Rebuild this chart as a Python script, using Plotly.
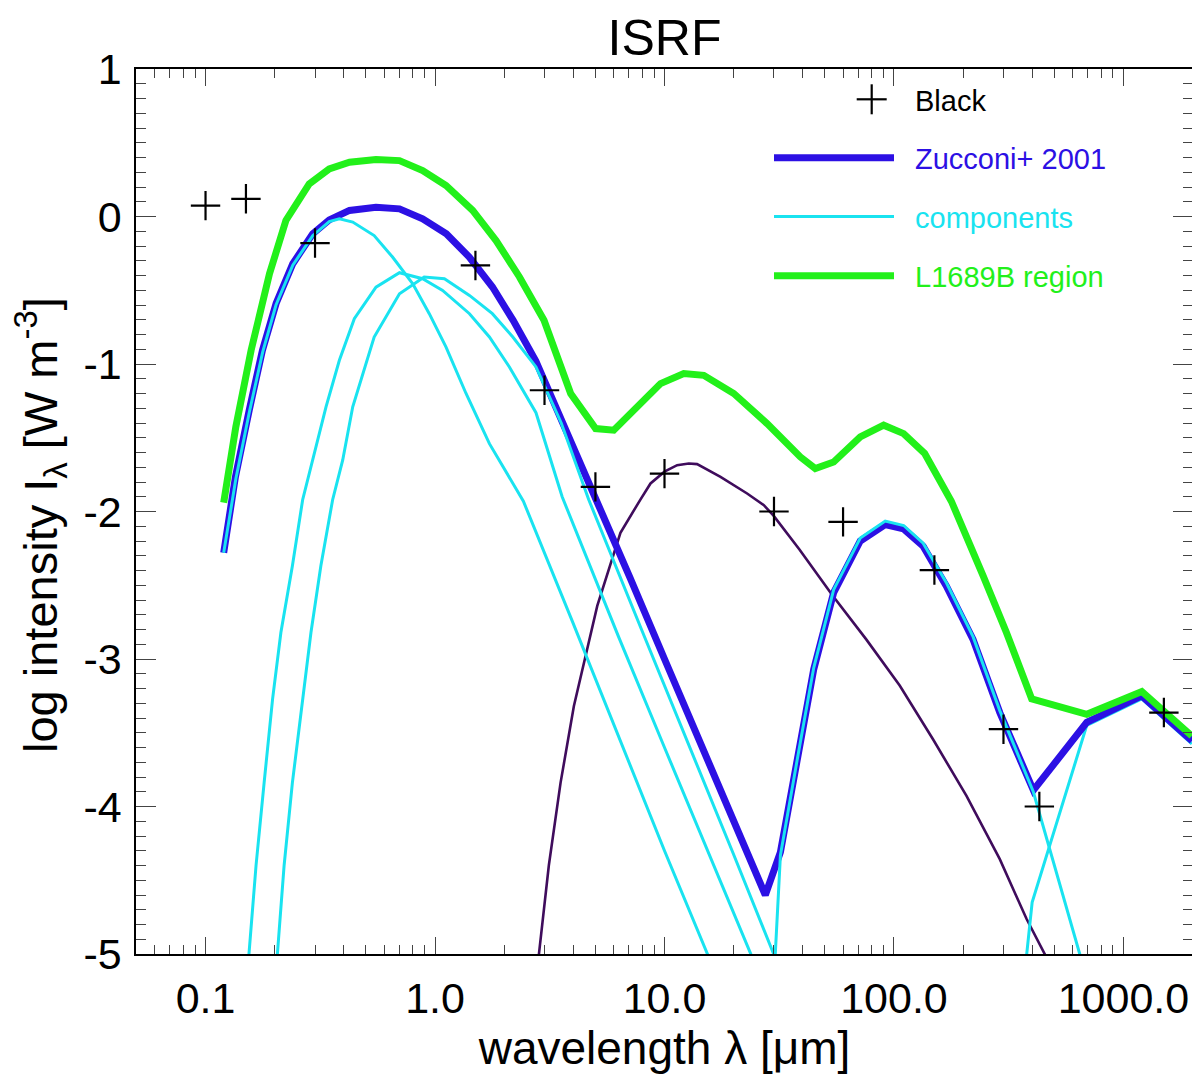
import plotly.graph_objects as go

# --- data (wavelength in micron, log intensity) ---
black_wl = [0.1, 0.15, 0.3, 1.5, 3.0, 5.0, 10.0, 30.0, 60.0, 150.0, 300.0, 430.0, 1500.0]
black_y = [0.074, 0.12, -0.18, -0.332, -1.178, -1.833, -1.743, -2.0, -2.07, -2.397, -3.476, -4.0, -3.363]

zucconi_wl = [0.12, 0.135, 0.155, 0.177, 0.203, 0.24, 0.293, 0.346, 0.424, 0.553, 0.70, 0.883,
              1.12, 1.41, 1.78, 2.19, 2.75, 3.55, 5.09, 7.08, 10.0, 14.1, 20.0, 27.5, 32.0,
              37.8, 44.7, 54.6, 71.3, 91.6, 110.0, 134.0, 169.0, 221.0, 289.0, 405.0, 692.0,
              1200.0, 1990.0]
zucconi_y = [-2.28, -1.765, -1.314, -0.907, -0.59, -0.32, -0.117, -0.023, 0.041, 0.063, 0.052,
             -0.016, -0.117, -0.275, -0.478, -0.704, -0.98, -1.37, -1.92, -2.45, -3.0, -3.55,
             -4.08, -4.6, -4.31, -3.68, -3.07, -2.55, -2.2, -2.088, -2.117, -2.235, -2.505,
             -2.867, -3.363, -3.89, -3.43, -3.25, -3.555]

l1689b_wl = [0.12, 0.1355, 0.158, 0.19, 0.224, 0.283, 0.346, 0.424, 0.553, 0.70, 0.883, 1.117,
             1.459, 1.845, 2.333, 2.985, 3.90, 5.01, 6.01, 7.60, 9.61, 12.13, 14.83, 20.04,
             27.99, 39.08, 45.39, 54.58, 71.29, 90.16, 110.2, 136.1, 177.8, 244.9, 309.0,
             398.0, 692.0, 1202.0, 1986.0]
l1689b_y = [-1.94, -1.427, -0.907, -0.388, -0.027, 0.221, 0.323, 0.368, 0.386, 0.379, 0.312,
            0.21, 0.041, -0.163, -0.41, -0.704, -1.2, -1.438, -1.449, -1.291, -1.133, -1.065,
            -1.077, -1.2, -1.404, -1.63, -1.709, -1.664, -1.494, -1.415, -1.472, -1.607, -1.93,
            -2.438, -2.82, -3.27, -3.375, -3.22, -3.522]

# Zucconi components
comp_uv_wl = [0.12, 0.1355, 0.155, 0.1774, 0.2028, 0.24, 0.293, 0.346, 0.383, 0.438, 0.543,
              0.653, 0.80, 0.944, 1.117, 1.365, 1.726, 2.427, 3.98, 6.31, 10.0, 17.4]
comp_uv_y = [-2.28, -1.78, -1.33, -0.92, -0.6, -0.33, -0.13, -0.035, -0.016, -0.038, -0.129,
             -0.275, -0.456, -0.659, -0.885, -1.2, -1.54, -1.93, -2.75, -3.53, -4.3, -5.2]

comp_a_wl = [0.151, 0.166, 0.180, 0.196, 0.213, 0.239, 0.265, 0.293, 0.335, 0.383, 0.445,
             0.553, 0.70, 0.883, 1.079, 1.413, 1.726, 2.109, 2.754, 3.581, 6.31, 10.0, 15.85,
             26.9]
comp_a_y = [-5.2, -4.40, -3.84, -3.27, -2.82, -2.37, -1.92, -1.652, -1.29, -0.975, -0.693,
            -0.479, -0.381, -0.422, -0.501, -0.659, -0.817, -1.02, -1.33, -1.9, -2.85, -3.6,
            -4.35, -5.2]

comp_b_wl = [0.1995, 0.220, 0.239, 0.265, 0.288, 0.318, 0.358, 0.396, 0.438, 0.543, 0.70,
             0.897, 1.099, 1.413, 1.778, 2.183, 2.754, 3.548, 4.677, 7.94, 12.6, 19.95, 29.9,
             33.9]
comp_b_y = [-5.27, -4.40, -3.84, -3.27, -2.82, -2.37, -1.92, -1.652, -1.29, -0.817, -0.524,
            -0.411, -0.422, -0.535, -0.659, -0.817, -1.02, -1.4, -1.92, -2.8, -3.56, -4.32,
            -5.0, -5.2]

comp_fir_wl = [27.5, 32.0, 37.8, 44.7, 54.6, 71.3, 91.6, 110.2, 134.0, 169.4, 221.3, 289.1,
               404.6, 645.7, 707.9]
comp_fir_y = [-6.3, -4.33, -3.69, -3.06, -2.53, -2.18, -2.065, -2.095, -2.215, -2.485, -2.85,
              -3.35, -3.9, -5.0, -5.22]

comp_mm_wl = [300.0, 400.0, 692.0, 1202.0, 1986.0]
comp_mm_y = [-6.5, -4.65, -3.45, -3.27, -3.575]

mir_wl = [2.754, 3.133, 3.524, 4.027, 5.093, 6.427, 7.852, 8.690, 10.0, 11.35, 12.76, 13.87,
          17.54, 22.91, 27.10, 29.92, 38.73, 54.2, 75.7, 105.9, 147.9, 207.0, 289.1, 378.4,
          501.2]
mir_y = [-5.18, -4.40, -3.84, -3.32, -2.64, -2.144, -1.919, -1.81, -1.73, -1.686, -1.675,
         -1.679, -1.765, -1.878, -1.957, -2.03, -2.257, -2.573, -2.867, -3.18, -3.544,
         -3.928, -4.357, -4.763, -5.13]

y_ticks = [-5, -4, -3, -2, -1, 0, 1]
y_ticktext = ["-5", "-4", "-3", "-2", "-1", "0", "1"]

BLUE = "#2c10e4"
CYAN = "#19e3f0"
GREEN = "#22f01a"
PURPLE = "#3f0c5c"
FONT = "Liberation Sans, Arial, sans-serif"

# the page body adds an 8 px offset, so the figure is 8 px smaller than the window
OFF = 8
W, H = 1200 - OFF, 1074 - OFF
L, R, T, B = 136, 1193, 69, 954   # plot area in window pixels

fig = go.Figure()

fig.add_trace(go.Scatter(x=mir_wl, y=mir_y, mode="lines",
                         line=dict(color=PURPLE, width=2.6)))
fig.add_trace(go.Scatter(x=comp_mm_wl, y=comp_mm_y, mode="lines",
                         line=dict(color=CYAN, width=3)))
fig.add_trace(go.Scatter(x=zucconi_wl, y=zucconi_y, mode="lines",
                         line=dict(color=BLUE, width=7)))
for wl, yy in [(comp_uv_wl, comp_uv_y), (comp_a_wl, comp_a_y),
               (comp_b_wl, comp_b_y), (comp_fir_wl, comp_fir_y)]:
    fig.add_trace(go.Scatter(x=wl, y=yy, mode="lines",
                             line=dict(color=CYAN, width=3)))
fig.add_trace(go.Scatter(x=l1689b_wl, y=l1689b_y, mode="lines",
                         line=dict(color=GREEN, width=7)))
fig.add_trace(go.Scatter(x=black_wl, y=black_y, mode="markers",
                         marker=dict(symbol="cross-thin", size=21,
                                     line=dict(color="black", width=2.2)),
                         cliponaxis=False))


# --- hand-made legend (paper coordinates of the plot area) ---
def px(x):
    return (x - L) / (R - L)


def py(y):
    return (B - y) / (B - T)


shapes = [
    dict(type="line", xref="paper", yref="paper", x0=px(856.7), x1=px(886.7),
         y0=py(99.3), y1=py(99.3), line=dict(color="black", width=2.2)),
    dict(type="line", xref="paper", yref="paper", x0=px(871.7), x1=px(871.7),
         y0=py(84.3), y1=py(114.3), line=dict(color="black", width=2.2)),
]
legend_rows = [("Zucconi+ 2001", BLUE, 7, 157.7),
               ("components", CYAN, 3, 216.5),
               ("L1689B region", GREEN, 7, 275.7)]
annotations = [dict(text="Black", x=px(913), y=py(100.5), xref="paper", yref="paper",
                    xanchor="left", yanchor="middle", showarrow=False,
                    font=dict(size=29, color="black", family=FONT))]
for label, col, w, yy in legend_rows:
    shapes.append(dict(type="line", xref="paper", yref="paper", x0=px(774), x1=px(894),
                       y0=py(yy), y1=py(yy), line=dict(color=col, width=w)))
    annotations.append(dict(text=label, x=px(913), y=py(yy + 1), xref="paper", yref="paper",
                            xanchor="left", yanchor="middle", showarrow=False,
                            font=dict(size=29, color=col, family=FONT)))

# y-axis title as a rotated annotation so it can sit close to the page edge
annotations.append(dict(text="log intensity I<sub>λ</sub> [W m<sup>-3</sup>]",
                        x=px(40), y=py(525), xref="paper", yref="paper",
                        xanchor="center", yanchor="middle", textangle=-90,
                        showarrow=False, font=dict(size=47, color="black", family=FONT)))

axis_common = dict(showline=True, linecolor="black", linewidth=1.5, mirror="allticks",
                   ticks="inside", tickcolor="#444", tickwidth=1.2, showgrid=False,
                   zeroline=False, tickfont=dict(size=43, color="black", family=FONT),
                   automargin=False)

fig.update_layout(
    width=W, height=H,
    paper_bgcolor="white", plot_bgcolor="white",
    margin=dict(l=L - OFF, r=W - (R - OFF), t=T - OFF, b=H - (B - OFF)),
    showlegend=False,
    font=dict(family=FONT, color="black"),
    title=dict(text="ISRF", x=((L + R) / 2 - OFF) / W, xanchor="center",
               y=1 - (37 - OFF) / H, yanchor="middle", yref="container",
               font=dict(size=50, family=FONT, color="black")),
    xaxis=dict(type="log", range=[-1.303, 3.303], dtick=1, tick0=0, tickformat=".1f",
               ticklen=17, ticklabelstandoff=6,
               minor=dict(ticks="inside", ticklen=9, dtick="D1", tickcolor="#444",
                          tickwidth=1.2, showgrid=False),
               title=dict(text="wavelength λ [μm]", standoff=22,
                          font=dict(size=46, family=FONT, color="black")),
               **axis_common),
    yaxis=dict(range=[-5, 1], tickmode="array", tickvals=y_ticks, ticktext=y_ticktext,
               ticklen=20, ticklabelstandoff=4,
               minor=dict(ticks="inside", ticklen=10, tickmode="linear", tick0=0,
                          dtick=0.1, tickcolor="#444", tickwidth=1.2, showgrid=False),
               **axis_common),
    shapes=shapes,
    annotations=annotations,
)

fig.write_html("out.html")
